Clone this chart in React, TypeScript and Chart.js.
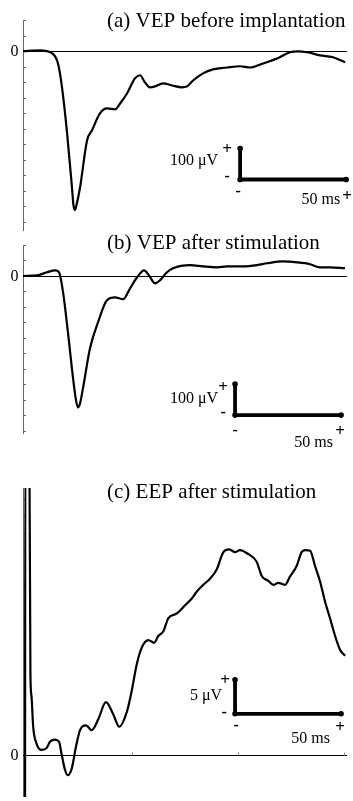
import React, { useEffect, useRef } from "react";
import { Chart, registerables } from "chart.js";
Chart.register(...registerables);

// ---------- data (ms, µV) ----------
const timeA = [0, 8.0, 13.7, 16.5, 18.4, 20.8, 23.1, 23.8, 24.5, 25.2, 26.9, 30.2, 32.5, 36.3, 39.6, 43.4, 45.8, 49.1, 52.8, 55.2, 57.5, 59.9, 62.3, 66.0, 70.3, 75.0, 77.4, 80.2, 84.9, 89.6, 96.2, 102.4, 107.1, 113.2, 119.8, 125.9, 129.7, 134.0, 140.1, 146.2, 151.9];
const vepA = [0, 2, -7, -40, -117, -265, -440, -497, -512, -497, -440, -288, -256, -201, -185, -188, -169, -136, -88, -78, -101, -117, -114, -104, -111, -117, -114, -95, -72, -59, -53, -49, -53, -40, -24, -4, -1, -4, -14, -20, -36];

const timeB = [0, 6.6, 11.3, 15.1, 17.0, 18.9, 21.2, 23.6, 25.0, 25.9, 26.9, 28.3, 31.6, 35.4, 39.6, 43.4, 47.2, 50.5, 53.8, 57.1, 59.4, 62.3, 64.6, 67.9, 70.8, 78.8, 84.9, 91.5, 96.2, 103.8, 110.4, 115.1, 122.6, 129.2, 135.4, 140.1, 144.8, 151.9];
const vepB = [0, 2, 12, 18, 12, -53, -182, -330, -401, -424, -411, -362, -233, -149, -78, -69, -75, -40, -4, 18, 2, -24, -14, 12, 25, 35, 31, 28, 31, 31, 35, 41, 47, 44, 38, 28, 28, 25];

const timeC = [-0.45, -0.3, 1.6, 2.1, 2.6, 3.4, 5.0, 7.4, 9.8, 11.3, 13.7, 15.6, 16.8, 18.4, 19.7, 21.6, 23.6, 25.5, 28.3, 31.0, 34.1, 37.7, 41.2, 44.0, 47.5, 49.9, 52.2, 54.6, 57.7, 60.4, 62.4, 64.8, 67.1, 71.1, 75.0, 78.2, 80.5, 83.6, 86.8, 90.0, 93.1, 95.9, 98.6, 100.9, 104.9, 108.8, 111.2, 114.3, 116.7, 119.0, 122.2, 124.5, 127.7, 130.0, 131.6, 134.0, 136.3, 138.7, 141.0, 143.4, 145.8, 148.1, 150.5];
const eepC = [-12, 45, 45, 11.7, 8.6, 4.1, 1.6, 0.7, 1.0, 1.9, 2.2, 1.9, 0.1, -2.2, -3.0, -2.0, 1.2, 3.6, 4.3, 3.6, 5.2, 7.7, 5.9, 4.1, 6.2, 9.4, 13.2, 15.7, 16.8, 16.4, 17.4, 18.1, 20.0, 20.7, 21.9, 22.9, 23.9, 24.9, 25.8, 27.2, 29.7, 30.1, 29.7, 30.0, 29.4, 28.3, 26.2, 25.5, 24.9, 25.2, 24.9, 26.1, 27.7, 29.7, 30.0, 29.9, 27.7, 25.4, 22.5, 20.0, 17.4, 15.4, 14.5];

const titles = ["(a) VEP before implantation", "(b) VEP after stimulation", "(c) EEP after stimulation"];
const barVoltLabels = ["100 \u03bcV", "100 \u03bcV", "5 \u03bcV"];
const barTimeLabel = "50 ms";
const barCornerTime = [102.4, 100, 98.6];
const barCornerVolt = [-414, -449, 6];
const barSpanTime = [50, 50, 50];
const barSpanVolt = [100, 100, 5];
const yTickStep = [50, 50, 2.5];
const xTickValuesC = [50, 100, 150];

const series = [
  { t: timeA, v: vepA },
  { t: timeB, v: vepB },
  { t: timeC, v: eepC },
];

// ---------- layout / style ----------
type Off = [number, number];
const PANELS = [
  {
    canvasTop: 0, canvasHeight: 240, areaTop: 20, areaBottom: 231,
    xMin: 0, xMax: 152.8, yMin: -580, yMax: 100, titleY: 27, xTicks: false,
    off: { vLabel: [-22, -14] as Off, plusV: [-13, -30] as Off, minusV: [-13, -3] as Off, minusT: [-2, 12] as Off, tLabel: [100, 25] as Off, plusT: [107, 17] as Off },
  },
  {
    canvasTop: 226, canvasHeight: 224, areaTop: 245, areaBottom: 434,
    xMin: 0, xMax: 152.8, yMin: -510, yMax: 100, titleY: 249, xTicks: false,
    off: { vLabel: [-17, -12] as Off, plusV: [-12, -27] as Off, minusV: [-12, -2] as Off, minusT: [0, 16] as Off, tLabel: [98, 32] as Off, plusT: [105, 17] as Off },
  },
  {
    canvasTop: 440, canvasHeight: 361, areaTop: 488, areaBottom: 801,
    xMin: -1.4, xMax: 151.4, yMin: -6.2, yMax: 39.1, titleY: 498, xTicks: true,
    off: { vLabel: [-13, -14] as Off, plusV: [-10, -33] as Off, minusV: [-11, -1] as Off, minusT: [1, 12] as Off, tLabel: [95, 29] as Off, plusT: [105, 14] as Off },
  },
];

const SERIF = "'Liberation Serif', 'Times New Roman', 'DejaVu Serif', serif";

function makeDecor(i: number) {
  const p = PANELS[i];
  return {
    id: "decor" + i,
    beforeDatasetsDraw(chart: any) {
      const { ctx, chartArea: a, scales } = chart;
      const x = scales.x, y = scales.y;
      ctx.save();
      // y axis line + inward ticks
      ctx.strokeStyle = "#666";
      ctx.lineWidth = 1;
      ctx.beginPath();
      ctx.moveTo(a.left + 0.5, a.top);
      ctx.lineTo(a.left + 0.5, a.bottom);
      const step = yTickStep[i];
      for (let v = Math.ceil(p.yMin / step) * step; v <= p.yMax + 1e-9; v += step) {
        const py = Math.round(y.getPixelForValue(v)) + 0.5;
        ctx.moveTo(a.left, py);
        ctx.lineTo(a.left + 3, py);
      }
      ctx.stroke();
      // zero line
      const zy = Math.round(y.getPixelForValue(0)) + 0.5;
      ctx.strokeStyle = "#000";
      ctx.beginPath();
      ctx.moveTo(a.left, zy);
      ctx.lineTo(a.right, zy);
      ctx.stroke();
      if (p.xTicks) {
        ctx.strokeStyle = "#888";
        ctx.beginPath();
        for (const t of xTickValuesC) {
          const px = Math.round(x.getPixelForValue(t)) + 0.5;
          ctx.moveTo(px, zy);
          ctx.lineTo(px, zy - 3);
        }
        ctx.stroke();
      }
      ctx.restore();
    },
    afterDraw(chart: any) {
      const { ctx, scales } = chart;
      const x = scales.x, y = scales.y;
      ctx.save();
      ctx.fillStyle = "#000";
      // zero label
      ctx.font = "16px " + SERIF;
      ctx.textAlign = "right";
      ctx.textBaseline = "middle";
      ctx.fillText("0", 18.5, y.getPixelForValue(0) + 1);
      // title
      ctx.font = "21px " + SERIF;
      ctx.textAlign = "left";
      ctx.textBaseline = "alphabetic";
      ctx.fillText(titles[i], 107, p.titleY - p.canvasTop);
      // scale bar labels
      const cx = x.getPixelForValue(barCornerTime[i]);
      const cy = y.getPixelForValue(barCornerVolt[i]);
      const o = p.off;
      ctx.font = "16px " + SERIF;
      ctx.textAlign = "right";
      ctx.fillText(barVoltLabels[i], cx + o.vLabel[0], cy + o.vLabel[1]);
      ctx.fillText(barTimeLabel, cx + o.tLabel[0], cy + o.tLabel[1]);
      ctx.font = "bold 17px " + SERIF;
      ctx.textAlign = "center";
      ctx.textBaseline = "middle";
      ctx.fillText("+", cx + o.plusV[0], cy + o.plusV[1]);
      ctx.fillText("+", cx + o.plusT[0], cy + o.plusT[1]);
      ctx.font = "bold 16px " + SERIF;
      ctx.fillText("-", cx + o.minusV[0], cy + o.minusV[1]);
      ctx.fillText("-", cx + o.minusT[0], cy + o.minusT[1]);
      ctx.restore();
    },
  };
}

function Panel({ idx }: { idx: number }) {
  const ref = useRef<HTMLCanvasElement>(null);
  const p = PANELS[idx];
  useEffect(() => {
    const s = series[idx];
    const curve = s.t.map((t, k) => ({ x: t, y: s.v[k] }));
    const t0 = barCornerTime[idx], v0 = barCornerVolt[idx];
    const bar = [
      { x: t0, y: v0 + barSpanVolt[idx] },
      { x: t0, y: v0 },
      { x: t0 + barSpanTime[idx], y: v0 },
    ];
    const chart = new Chart(ref.current as HTMLCanvasElement, {
      type: "line",
      data: {
        datasets: [
          {
            data: curve,
            borderColor: "#000",
            borderWidth: 2.2,
            pointRadius: 0,
            cubicInterpolationMode: "monotone",
            borderJoinStyle: "round",
            fill: false,
          } as any,
          {
            data: bar,
            borderColor: "#000",
            borderWidth: 3.8,
            pointRadius: 2.8,
            pointBackgroundColor: "#000",
            pointBorderWidth: 0,
            tension: 0,
            fill: false,
            clip: false,
          } as any,
        ],
      },
      options: {
        animation: false,
        responsive: false,
        maintainAspectRatio: false,
        events: [],
        layout: {
          padding: {
            left: 23,
            right: 6,
            top: p.areaTop - p.canvasTop,
            bottom: p.canvasTop + p.canvasHeight - p.areaBottom,
          },
        },
        scales: {
          x: { type: "linear", min: p.xMin, max: p.xMax, display: false },
          y: { type: "linear", min: p.yMin, max: p.yMax, display: false },
        },
        plugins: {
          legend: { display: false },
          title: { display: false },
          tooltip: { enabled: false },
        },
      },
      plugins: [makeDecor(idx)],
    });
    return () => chart.destroy();
  }, [idx]);
  return (
    <canvas
      ref={ref}
      width={353}
      height={p.canvasHeight}
      style={{ position: "absolute", left: 0, top: p.canvasTop, width: 353, height: p.canvasHeight, display: "block" }}
    />
  );
}

export default function App() {
  return (
    <div style={{ position: "fixed", left: 0, top: 0, width: 353, height: 801, overflow: "hidden", background: "#fff" }}>
      <Panel idx={0} />
      <Panel idx={1} />
      <Panel idx={2} />
    </div>
  );
}
